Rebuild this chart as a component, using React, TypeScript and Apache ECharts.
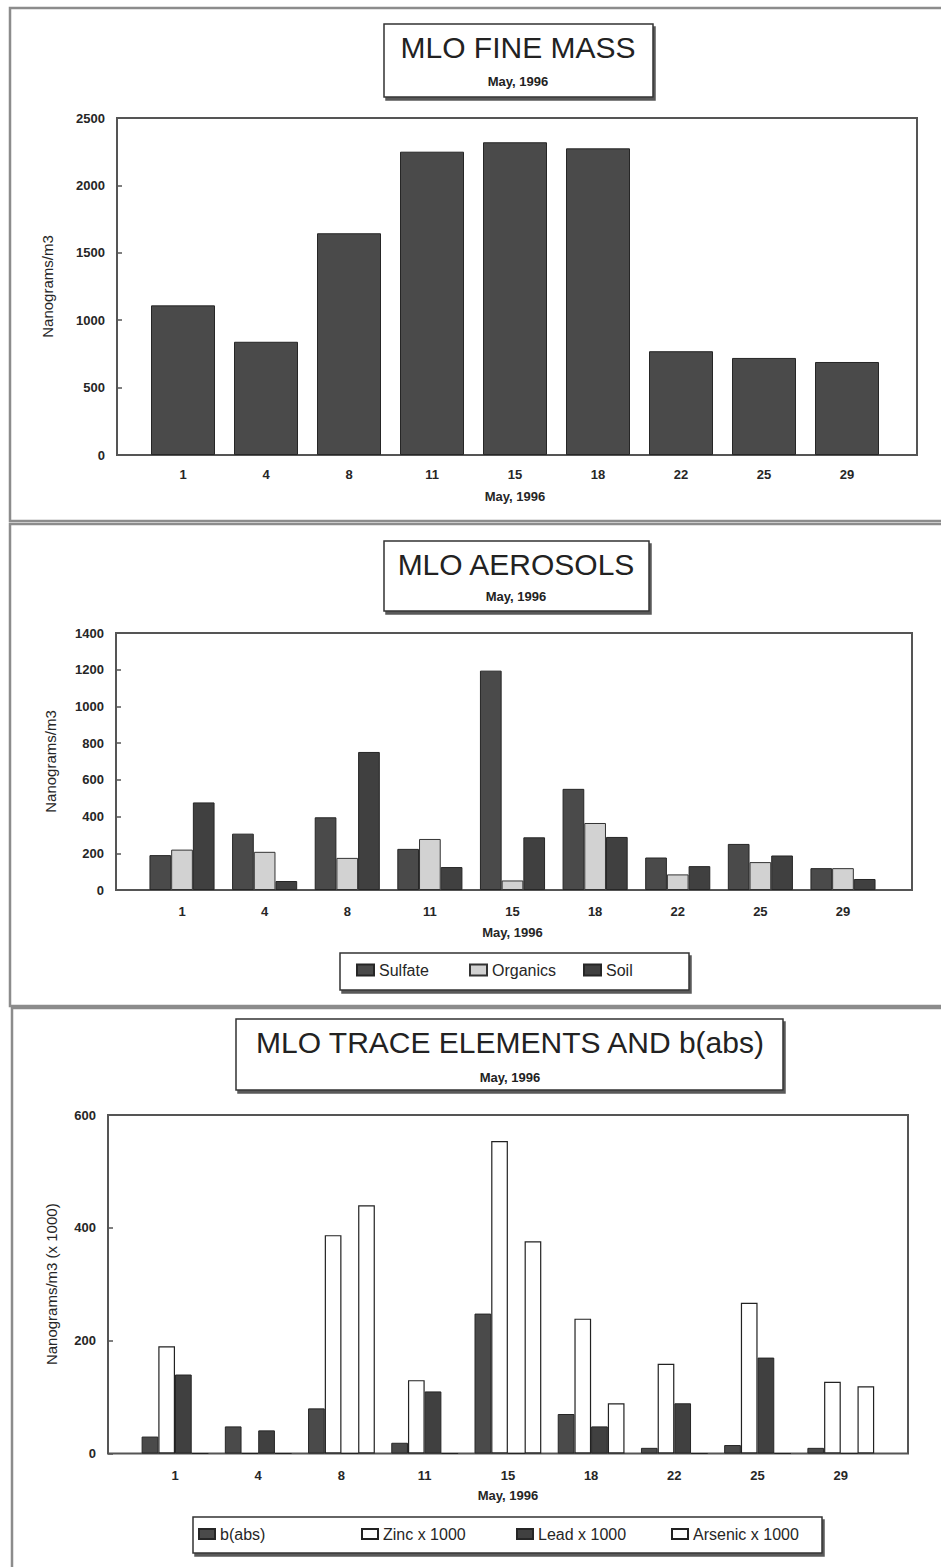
import React, { useEffect, useRef } from 'react';
import * as echarts from 'echarts';

// ---- data ----
const days = ['1', '4', '8', '11', '15', '18', '22', '25', '29'];
const fineMass = [1110, 840, 1645, 2250, 2320, 2275, 770, 720, 690];

const sulfate = [190, 307, 396, 224, 1195, 551, 177, 251, 119];
const organics = [220, 208, 175, 278, 52, 365, 85, 152, 119];
const soil = [477, 49, 752, 125, 287, 289, 130, 188, 60];

const bAbs = [30, 48, 80, 19, 248, 70, 10, 15, 10];
const zinc = [190, 0, 387, 130, 554, 239, 159, 267, 127];
const lead = [140, 41, 0, 110, 0, 48, 89, 170, 0];
const arsenic = [0, 0, 440, 0, 376, 89, 0, 0, 119];

const FONT = '"Liberation Sans", Arial, sans-serif';
const DARK = '#4a4a4a';
const DARK2 = '#404040';
const EDGE = '#262626';

function box(x: number, y: number, w: number, h: number, z = 5) {
  return {
    type: 'rect',
    silent: true,
    z,
    shape: { x, y, width: w, height: h },
    style: {
      fill: '#fff',
      stroke: '#333',
      lineWidth: 1.5,
      shadowColor: 'rgba(0,0,0,0.65)',
      shadowOffsetX: 2,
      shadowOffsetY: 3,
      shadowBlur: 1,
    },
  };
}

function txt(x: number, y: number, text: string, size: number, weight = 'normal') {
  return {
    type: 'text',
    silent: true,
    z: 6,
    x,
    y,
    style: {
      text,
      font: `${weight} ${size}px ${FONT}`,
      fill: '#222',
      align: 'center',
      verticalAlign: 'middle',
      textAlign: 'center',
      textVerticalAlign: 'middle',
    },
  };
}

function frame(x: number, y: number, w: number, h: number) {
  return {
    type: 'rect',
    silent: true,
    z: 1,
    shape: { x, y, width: w, height: h },
    style: { fill: 'none', stroke: '#555', lineWidth: 2 },
  };
}

function panel(x: number, y: number, w: number, h: number) {
  return {
    type: 'rect',
    silent: true,
    z: 0,
    shape: { x, y, width: w, height: h },
    style: { fill: 'none', stroke: '#8c8c8c', lineWidth: 2.5 },
  };
}

const tickLabel = { fontSize: 13, fontWeight: 'bold', color: '#262626', fontFamily: FONT };
const nameStyle = { fontSize: 13, fontWeight: 'bold', color: '#262626', fontFamily: FONT };
const yNameStyle = { fontSize: 15, color: '#262626', fontFamily: FONT };

function xAx(i: number, margin: number, nameGap: number) {
  return {
    type: 'category',
    gridIndex: i,
    data: days,
    axisLine: { show: false },
    axisTick: { show: false },
    axisLabel: { ...tickLabel, margin },
    name: 'May, 1996',
    nameLocation: 'middle',
    nameGap,
    nameTextStyle: nameStyle,
  };
}

function yAx(i: number, max: number, interval: number, offset: number, name: string, nameGap: number) {
  return {
    type: 'value',
    gridIndex: i,
    min: 0,
    max,
    interval,
    offset,
    splitLine: { show: false },
    axisLine: { show: false },
    axisTick: { show: true, inside: true, length: 5, lineStyle: { color: '#555', width: 1.5 } },
    axisLabel: { ...tickLabel, margin: 12, formatter: (v: number) => String(v) },
    name,
    nameLocation: 'middle',
    nameGap,
    nameRotate: 90,
    nameTextStyle: yNameStyle,
  };
}

function legendItem(name: string, left: number, top: number, w: number, h: number) {
  return {
    data: [name],
    left,
    top,
    z: 20,
    padding: 0,
    itemWidth: w,
    itemHeight: h,
    icon: 'rect',
    selectedMode: false,
    textStyle: { fontSize: 16, color: '#262626', fontFamily: FONT },
  };
}

export default function App() {
  const ref = useRef<HTMLDivElement>(null);
  useEffect(() => {
    if (!ref.current) return;
    const chart = echarts.init(ref.current, undefined, { renderer: 'svg' });
    const option: any = {
      animation: false,
      backgroundColor: '#fff',
      textStyle: { fontFamily: FONT },
      grid: [
        { left: 141.5, top: 118, width: 747, height: 337 },
        { left: 140.7, top: 633, width: 743.6, height: 257 },
        { left: 133.4, top: 1115, width: 749, height: 338.5 },
      ],
      xAxis: [xAx(0, 13, 35), xAx(1, 15, 36), xAx(2, 15, 35)],
      yAxis: [
        yAx(0, 2500, 500, 24.5, 'Nanograms/m3', 62),
        yAx(1, 1400, 200, 24.7, 'Nanograms/m3', 58),
        yAx(2, 600, 200, 25.4, 'Nanograms/m3 (x 1000)', 49),
      ],
      legend: [
        legendItem('Sulfate', 356, 962, 17, 11),
        legendItem('Organics', 469, 962, 17, 11),
        legendItem('Soil', 583, 962, 17, 11),
        legendItem('b(abs)', 198, 1526, 16, 10),
        legendItem('Zinc x 1000', 361, 1526, 16, 10),
        legendItem('Lead x 1000', 516, 1526, 16, 10),
        legendItem('Arsenic x 1000', 671, 1526, 16, 10),
      ],
      series: [
        {
          name: 'Fine Mass',
          type: 'bar',
          xAxisIndex: 0,
          yAxisIndex: 0,
          data: fineMass,
          barWidth: 64,
          itemStyle: { color: DARK, borderColor: EDGE, borderWidth: 1 },
        },
        {
          name: 'Sulfate',
          type: 'bar',
          xAxisIndex: 1,
          yAxisIndex: 1,
          data: sulfate,
          barWidth: 21.7,
          barGap: '0%',
          itemStyle: { color: DARK, borderColor: EDGE, borderWidth: 1 },
        },
        {
          name: 'Organics',
          type: 'bar',
          xAxisIndex: 1,
          yAxisIndex: 1,
          data: organics,
          barWidth: 21.7,
          barGap: '0%',
          itemStyle: { color: '#d2d2d2', borderColor: '#333', borderWidth: 1 },
        },
        {
          name: 'Soil',
          type: 'bar',
          xAxisIndex: 1,
          yAxisIndex: 1,
          data: soil,
          barWidth: 21.7,
          barGap: '0%',
          itemStyle: { color: DARK2, borderColor: EDGE, borderWidth: 1 },
        },
        {
          name: 'b(abs)',
          type: 'bar',
          xAxisIndex: 2,
          yAxisIndex: 2,
          data: bAbs,
          barWidth: 16.7,
          barGap: '0%',
          itemStyle: { color: DARK, borderColor: EDGE, borderWidth: 1 },
        },
        {
          name: 'Zinc x 1000',
          type: 'bar',
          xAxisIndex: 2,
          yAxisIndex: 2,
          data: zinc,
          barWidth: 16.7,
          barGap: '0%',
          itemStyle: { color: '#fff', borderColor: '#222', borderWidth: 1.2 },
        },
        {
          name: 'Lead x 1000',
          type: 'bar',
          xAxisIndex: 2,
          yAxisIndex: 2,
          data: lead,
          barWidth: 16.7,
          barGap: '0%',
          itemStyle: { color: DARK2, borderColor: EDGE, borderWidth: 1 },
        },
        {
          name: 'Arsenic x 1000',
          type: 'bar',
          xAxisIndex: 2,
          yAxisIndex: 2,
          data: arsenic,
          barWidth: 16.7,
          barGap: '0%',
          itemStyle: { color: '#fff', borderColor: '#222', borderWidth: 1.2 },
        },
      ],
      graphic: [
        panel(10, 8, 945, 513),
        panel(10, 524, 945, 482),
        panel(12, 1008, 945, 600),
        frame(117, 118, 800, 337),
        frame(116, 633, 796, 257),
        frame(108, 1115, 800, 338.5),
        box(384, 24, 269, 73),
        txt(518, 47, 'MLO FINE MASS', 30),
        txt(518, 81, 'May, 1996', 13, 'bold'),
        box(384, 541, 265, 70),
        txt(516, 564, 'MLO AEROSOLS', 30),
        txt(516, 596, 'May, 1996', 13, 'bold'),
        box(236, 1019, 547, 71),
        txt(510, 1042, 'MLO TRACE ELEMENTS AND b(abs)', 30),
        txt(510, 1077, 'May, 1996', 13, 'bold'),
        box(340, 953, 349, 37, 0),
        box(193, 1517, 629, 36, 0),
      ],
    };
    chart.setOption(option);
    return () => chart.dispose();
  }, []);
  return (
    <div
      ref={ref}
      style={{ position: 'absolute', left: 0, top: 0, width: 941, height: 1567, background: '#fff' }}
    />
  );
}
